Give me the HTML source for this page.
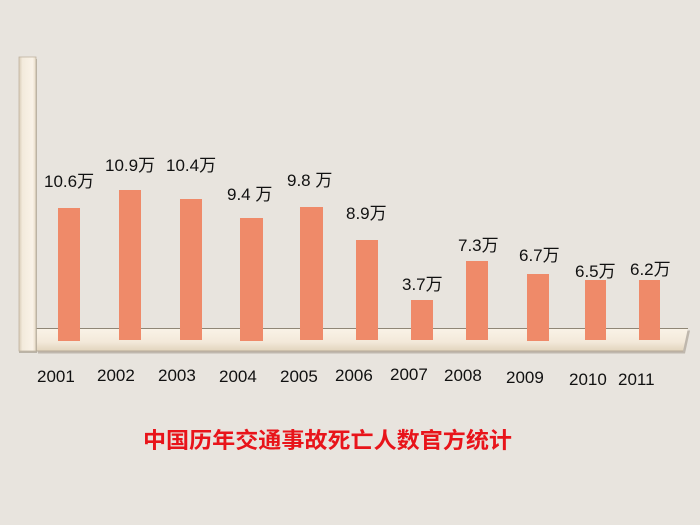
<!DOCTYPE html>
<html>
<head>
<meta charset="utf-8">
<style>
html,body{margin:0;padding:0;background:#e8e4de;}
svg{display:block;}
.lbl{font-family:"Liberation Sans","Noto Sans CJK SC",sans-serif;font-size:17px;fill:#111;}
.yr{font-family:"Liberation Sans",sans-serif;font-size:17px;fill:#111;}
.title{font-family:"Liberation Sans","Noto Sans CJK SC",sans-serif;font-size:22px;font-weight:bold;fill:#e8141a;}
</style>
</head>
<body>
<svg width="700" height="525" viewBox="0 0 700 525" xmlns="http://www.w3.org/2000/svg">
<defs>
<linearGradient id="wallg" x1="0" x2="1" y1="0" y2="0">
<stop offset="0" stop-color="#d9ccb6"/>
<stop offset="0.2" stop-color="#f3eadc"/>
<stop offset="0.8" stop-color="#faf3e8"/>
<stop offset="1" stop-color="#e6dac6"/>
</linearGradient>
<linearGradient id="floorg" x1="0" x2="0" y1="0" y2="1">
<stop offset="0" stop-color="#faf3e8"/>
<stop offset="0.6" stop-color="#f3e9da"/>
<stop offset="1" stop-color="#e2d4bd"/>
</linearGradient>
</defs>
<rect width="700" height="525" fill="#e8e4de"/>

<!-- floor -->
<polygon points="37,352 684,352 689,329 35,329" fill="#a39a8c" transform="translate(1,1.5)" opacity="0.6"/>
<polygon points="35,351 683,351 688,328 35,328" fill="url(#floorg)"/>
<line x1="35" y1="328.5" x2="688" y2="328.5" stroke="#8f8676" stroke-width="1"/>
<line x1="35" y1="351" x2="683" y2="351" stroke="#b7aa96" stroke-width="1"/>

<!-- wall -->
<rect x="19" y="59" width="18" height="294" fill="#a79e90" opacity="0.7"/>
<rect x="19" y="57" width="17" height="294" fill="url(#wallg)" stroke="#bfb3a0" stroke-width="0.8"/>

<!-- bars -->
<g fill="#ef8a69">
<rect x="58" y="208" width="22" height="133"/>
<rect x="119" y="190" width="22" height="150"/>
<rect x="180" y="199" width="22" height="141"/>
<rect x="240" y="218" width="23" height="123"/>
<rect x="300" y="207" width="23" height="133"/>
<rect x="356" y="240" width="22" height="100"/>
<rect x="411" y="300" width="22" height="40"/>
<rect x="466" y="261" width="22" height="79"/>
<rect x="527" y="274" width="22" height="67"/>
<rect x="585" y="280" width="21" height="60"/>
<rect x="639" y="280" width="21" height="60"/>
</g>

<!-- value labels -->
<text class="lbl" x="44" y="187">10.6万</text>
<text class="lbl" x="105" y="171">10.9万</text>
<text class="lbl" x="166" y="171">10.4万</text>
<text class="lbl" x="227" y="200">9.4 万</text>
<text class="lbl" x="287" y="186">9.8 万</text>
<text class="lbl" x="346" y="219">8.9万</text>
<text class="lbl" x="402" y="290">3.7万</text>
<text class="lbl" x="458" y="251">7.3万</text>
<text class="lbl" x="519" y="261">6.7万</text>
<text class="lbl" x="575" y="277">6.5万</text>
<text class="lbl" x="630" y="275">6.2万</text>

<!-- year labels -->
<text class="yr" x="37" y="382">2001</text>
<text class="yr" x="97" y="381">2002</text>
<text class="yr" x="158" y="381">2003</text>
<text class="yr" x="219" y="382">2004</text>
<text class="yr" x="280" y="382">2005</text>
<text class="yr" x="335" y="381">2006</text>
<text class="yr" x="390" y="380">2007</text>
<text class="yr" x="444" y="381">2008</text>
<text class="yr" x="506" y="383">2009</text>
<text class="yr" x="569" y="385">2010</text>
<text class="yr" x="618" y="385">2011</text>

<!-- title -->
<text class="title" x="143" y="448" textLength="369" lengthAdjust="spacingAndGlyphs">中国历年交通事故死亡人数官方统计</text>
</svg>
</body>
</html>
